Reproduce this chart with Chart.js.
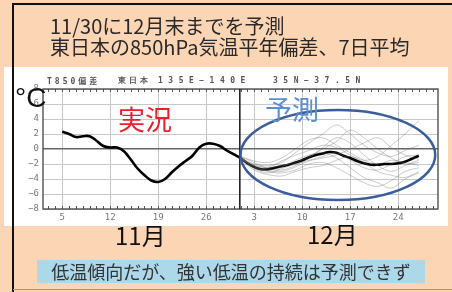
<!DOCTYPE html>
<html>
<head>
<meta charset="utf-8">
<script src="https://cdn.jsdelivr.net/npm/chart.js@4/dist/chart.umd.min.js"></script>
<style>
  body { margin:0; width:452px; height:292px; overflow:hidden; background:#fcd5b4; position:relative; font-family:"Noto Sans CJK JP", sans-serif; }
  .abs { position:absolute; white-space:nowrap; }
  #panel { left:4px; top:67px; width:444px; height:159px; background:#fff; }
  #chart { position:absolute; left:0; top:0; }
  .jp { font-family:"Noto Sans CJK JP"; }
  .small { font-family:"DejaVu Sans Mono", monospace; font-size:8px; color:#555; font-weight:bold; line-height:8px; }
</style>
</head>
<body>
<div class="abs" id="panel"></div>
<canvas id="chart" width="452" height="292"></canvas>

<div class="abs" style="left:13px;top:3px;width:439px;height:2px;background:#111"></div>
<div class="abs" style="left:12px;top:3px;width:2px;height:289px;background:#111"></div>
<div class="abs" style="left:13px;top:289px;width:439px;height:1px;background:#999"></div>

<div class="abs jp" style="left:50px;top:16px;font-size:20px;line-height:20px;color:#2a2a2a">11/30に12月末までを予測</div>
<div class="abs jp" style="left:50px;top:37px;font-size:20px;line-height:20px;color:#2a2a2a">東日本の850hPa気温平年偏差、7日平均</div>

<div class="abs small" style="left:47px;top:77px;letter-spacing:3px">T850<span class="jp">偏差</span></div>
<div class="abs small jp" style="left:118px;top:77px;letter-spacing:3px">東日本</div>
<div class="abs small" style="left:158px;top:77px;letter-spacing:5.5px">135E−140E</div>
<div class="abs small" style="left:273px;top:77px;letter-spacing:5.5px">35N−37.5N</div>

<div class="abs" style="left:15px;top:84px;font-family:'Liberation Sans';font-size:28px;line-height:28px;color:#111">°C</div>
<div class="abs jp" style="left:118px;top:105px;font-size:27px;line-height:27px;color:#e8202a">実況</div>
<div class="abs jp" style="left:265px;top:95px;font-size:27px;line-height:27px;color:#5b8fd2">予測</div>

<div class="abs jp" style="left:115px;top:223px;font-size:24px;line-height:24px;color:#111">11月</div>
<div class="abs jp" style="left:307px;top:222px;font-size:24px;line-height:24px;color:#111">12月</div>

<div class="abs jp" style="left:37px;top:260px;width:388px;height:23px;background:#acd8ea;font-size:18px;line-height:23px;text-align:center;color:#333">低温傾向だが、強い低温の持続は予測できず</div>

<script>
// day numbers: Nov 1 = 1, Dec 1 = 31
const X_TICK_DAYS = [5, 12, 19, 26, 33, 40, 47, 54];
const X_TICK_LABELS = ['5', '12', '19', '26', '3', '10', '17', '24'];
const Y_TICKS = [8, 6, 4, 2, 0, -2, -4, -6, -8];

// observed (to Nov 30) + ensemble mean forecast, 7-day mean anomaly
const meanDays = [5, 6, 7, 8, 9, 10, 11, 12, 13, 14, 15, 16, 17, 18, 19, 20, 21, 22, 23, 24, 25, 26, 27, 28, 29, 30,
                  31, 32, 33, 34, 35, 36, 37, 38, 39, 40, 41, 42, 43, 44, 45, 46, 47, 48, 49, 50, 51, 52, 53, 54, 55, 56, 57];
const meanVals = [2.3, 2.0, 1.6, 1.7, 1.7, 1.1, 0.4, 0.2, 0.2, -0.3, -1.4, -2.6, -3.5, -4.2, -4.4, -4.0, -3.1, -2.3, -1.6, -0.9, 0.2, 0.7, 0.7, 0.4, -0.2, -0.7,
                  -1.2, -1.9, -2.4, -2.7, -2.7, -2.5, -2.3, -2.1, -1.8, -1.5, -1.1, -0.8, -0.6, -0.4, -0.5, -0.9, -1.2, -1.6, -1.9, -2.1, -2.1, -2.0, -2.0, -1.9, -1.7, -1.3, -0.9];

// ensemble members
const memberDays = [31, 33, 35, 37, 39, 41, 43, 45, 47, 49, 51, 53, 55, 57];
const member1 = [-1.2, -2.0, -2.2, -1.8, -0.5, 0.8, 2.0, 3.2, 2.0, 0.5, -0.5, -1.0, -0.2, 0.5];
const member2 = [-1.0, -1.8, -2.6, -2.8, -2.2, -1.2, 0.2, 1.5, 0.8, -0.8, -2.2, -3.0, -2.2, -1.5];
const member3 = [-1.3, -2.4, -3.0, -3.2, -2.8, -2.0, -1.8, -2.5, -3.5, -4.5, -5.0, -4.2, -3.0, -2.5];
const member4 = [-1.1, -2.2, -2.4, -1.6, -0.8, -0.2, 0.5, 0.2, -0.8, -1.5, -1.0, 0.5, 2.0, 3.8];
const member5 = [-1.2, -2.6, -3.2, -2.6, -2.0, -1.5, -1.0, -0.5, -1.5, -2.5, -2.8, -2.0, -1.0, -0.8];
const member6 = [-1.4, -2.8, -3.4, -3.6, -3.0, -2.5, -2.2, -1.5, -1.0, -1.8, -3.0, -3.5, -3.8, -3.0];
const member7 = [-1.0, -1.6, -1.8, -1.2, 0.0, 1.2, 1.5, 0.5, -0.5, -1.5, -2.0, -1.5, -1.8, -2.2];
const member8 = [-1.3, -2.3, -2.8, -2.4, -1.5, -0.8, -0.5, -1.2, -2.5, -3.8, -4.5, -5.2, -4.0, -3.2];
const member9 = [-1.2, -2.1, -2.5, -2.2, -1.8, -1.0, 0.0, 1.0, 2.5, 1.5, 0.0, -1.2, -2.0, -1.8];
const member10 = [-1.1, -2.5, -2.9, -3.0, -2.4, -1.6, -1.2, -0.8, 0.0, 0.8, 1.5, 0.2, -0.8, -1.4];
const members = [member1, member2, member3, member4, member5, member6, member7, member8, member9, member10];

const forecastStart = 30.9;                              // divider between observed and forecast
const forecastOval = { day: 45.2, value: -0.8, dDay: 14.2, dValue: 6.0 };

const toXY = (xs, ys) => xs.map((x, i) => ({ x: x, y: ys[i] }));

const datasets = members.map(m => ({
    data: toXY(memberDays, m),
    borderColor: 'rgba(110,110,110,0.45)',
    borderWidth: 0.8,
    tension: 0.35,
    pointRadius: 0
}));
datasets.push({
    data: toXY(meanDays, meanVals),
    borderColor: '#000',
    borderWidth: 2.6,
    tension: 0.4,
    pointRadius: 0
});

// frame, minor ticks, divider and the forecast oval
const decorations = {
    id: 'decorations',
    afterDatasetsDraw(chart) {
        const { ctx, chartArea: a, scales: { x, y } } = chart;
        ctx.save();
        ctx.strokeStyle = '#555';
        ctx.lineWidth = 1;
        for (let d = Math.ceil(x.min); d <= x.max; d++) {
            const px = Math.round(x.getPixelForValue(d)) + 0.5;
            ctx.beginPath();
            ctx.moveTo(px, a.bottom); ctx.lineTo(px, a.bottom - 3);
            ctx.moveTo(px, a.top); ctx.lineTo(px, a.top + 3);
            ctx.stroke();
        }
        ctx.strokeStyle = '#444';
        ctx.lineWidth = 1.3;
        ctx.strokeRect(a.left, a.top, a.right - a.left, a.bottom - a.top);

        const dx = x.getPixelForValue(forecastStart);
        ctx.strokeStyle = '#222';
        ctx.lineWidth = 1.6;
        ctx.beginPath();
        ctx.moveTo(dx, a.top); ctx.lineTo(dx, a.bottom);
        ctx.stroke();

        const cx = x.getPixelForValue(forecastOval.day);
        const cy = y.getPixelForValue(forecastOval.value);
        const rx = x.getPixelForValue(forecastOval.day + forecastOval.dDay) - cx;
        const ry = cy - y.getPixelForValue(forecastOval.value + forecastOval.dValue);
        ctx.strokeStyle = '#3a5d9c';
        ctx.lineWidth = 2.5;
        ctx.beginPath();
        ctx.ellipse(cx, cy, rx, ry, 0, 0, Math.PI * 2);
        ctx.stroke();
        ctx.restore();
    }
};

new Chart(document.getElementById('chart'), {
    type: 'line',
    data: { datasets: datasets },
    options: {
        responsive: false,
        animation: false,
        layout: { padding: { left: 0, top: 89, right: 14, bottom: 70 } },
        plugins: { legend: { display: false }, tooltip: { enabled: false } },
        scales: {
            x: {
                type: 'linear',
                min: 2.2,
                max: 59.8,
                afterBuildTicks: s => { s.ticks = X_TICK_DAYS.map(v => ({ value: v })); },
                afterFit: s => { s.height = 13; },
                ticks: {
                    padding: 3,
                    color: '#777',
                    font: { family: 'DejaVu Sans Mono', size: 9 },
                    callback: v => X_TICK_LABELS[X_TICK_DAYS.indexOf(v)]
                },
                grid: { color: '#c4c4c4', lineWidth: 1, drawTicks: false },
                border: { display: false }
            },
            y: {
                min: -8,
                max: 8,
                afterBuildTicks: s => { s.ticks = Y_TICKS.map(v => ({ value: v })); },
                afterFit: s => { s.width = 43; },
                ticks: {
                    padding: 4,
                    color: '#777',
                    font: { family: 'DejaVu Sans Mono', size: 9 },
                    callback: v => (v < 0 ? '−' + (-v) : '' + v)
                },
                grid: {
                    color: c => (c.tick && c.tick.value === 0 ? '#666' : '#c8c8c8'),
                    lineWidth: c => (c.tick && c.tick.value === 0 ? 1.6 : 1),
                    drawTicks: false
                },
                border: { display: false }
            }
        }
    },
    plugins: [decorations]
});
</script>
</body>
</html>
